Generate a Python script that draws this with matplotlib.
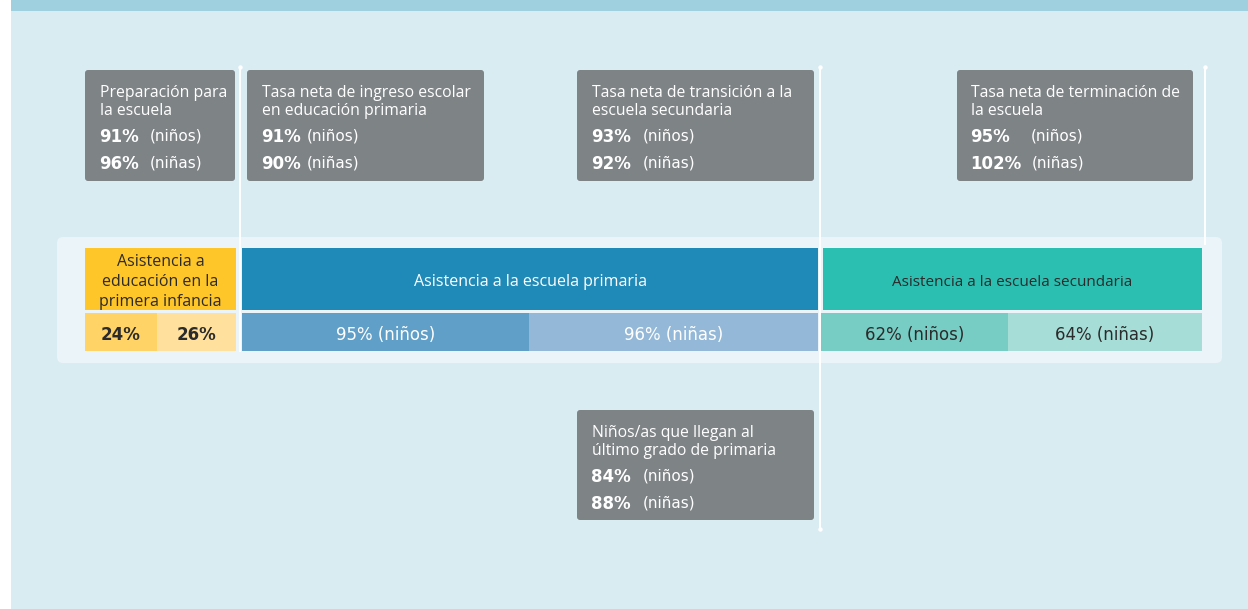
import matplotlib
matplotlib.use("Agg")
import matplotlib.pyplot as plt
from matplotlib.patches import FancyBboxPatch, Rectangle

plt.rcParams['font.family'] = ['Open Sans', 'DejaVu Sans']

# ---------------- data ----------------
indicator_titles = [
    "Preparación para\nla escuela",
    "Tasa neta de ingreso escolar\nen educación primaria",
    "Tasa neta de transición a la\nescuela secundaria",
    "Tasa neta de terminación de\nla escuela",
    "Niños/as que llegan al\núltimo grado de primaria",
]
indicator_boys = [91, 91, 93, 95, 84]
indicator_girls = [96, 90, 92, 102, 88]

attendance_levels = [
    "Asistencia a\neducación en la\nprimera infancia",
    "Asistencia a la escuela primaria",
    "Asistencia a la escuela secundaria",
]
attendance_boys = [24, 95, 62]
attendance_girls = [26, 96, 64]
boys_label = "(niños)"
girls_label = "(niñas)"

# ---------------- layout (pixels) ----------------
W, H = 1248, 609
fig = plt.figure(figsize=(W / 100, H / 100), dpi=100)
ax = fig.add_axes([0, 0, 1, 1])
ax.set_xlim(0, W)
ax.set_ylim(H, 0)
ax.axis("off")
fig.patch.set_facecolor("white")

BG = "#D9ECF2"
TOP = "#9ED0E0"
PANEL = "#EBF4F8"
GREY = "#7E8386"
DARK = "#2B2B2B"
WIDE = ['DejaVu Sans']

ax.add_patch(Rectangle((11, 0), W - 11, H, facecolor=BG, edgecolor="none", zorder=0))
ax.add_patch(Rectangle((11, 0), W - 11, 11, facecolor=TOP, edgecolor="none", zorder=1))
ax.add_patch(FancyBboxPatch((57, 237), 1165, 126, boxstyle="round,pad=0,rounding_size=6",
                            facecolor=PANEL, edgecolor="none", zorder=1))

# vertical white guide lines
for x, y0, y1, dots in [(240, 67, 352, [67]), (820, 67, 529, [67, 529]), (1205, 67, 245, [67])]:
    ax.plot([x, x], [y0, y1], color="white", lw=1.4, zorder=2, solid_capstyle="butt")
    for d in dots:
        ax.plot([x], [d], "o", color="white", ms=3.2, zorder=2, mec="none")

# attendance bars
head_y, head_h = 248, 62
sub_y, sub_h = 313, 38
segments = [
    # (x0, x1, xsplit, head colour, boys colour, girls colour, head text colour, sub text colour, bold, head size)
    (85, 236, 157, "#FFC629", "#FFD366", "#FFE09C", DARK, DARK, True, 11.5),
    (242, 818, 529, "#1F89B7", "#609FC7", "#94B8D7", "white", "white", False, 11.5),
    (823, 1202, 1008, "#2BBFB2", "#77CCC4", "#A6DDD6", DARK, DARK, False, 11),
]
for i, (x0, x1, xs, hc, bc, gc, htc, stc, bold, hs) in enumerate(segments):
    ax.barh(head_y + head_h / 2, x1 - x0, left=x0, height=head_h, color=hc, zorder=3)
    sx0 = x0 if i < 2 else 821
    ax.barh(sub_y + sub_h / 2, xs - sx0, left=sx0, height=sub_h, color=bc, zorder=3)
    ax.barh(sub_y + sub_h / 2, x1 - xs, left=xs, height=sub_h, color=gc, zorder=3)
    ax.text((x0 + x1) / 2, head_y + head_h / 2 + 3, attendance_levels[i], ha="center", va="center",
            color=htc, fontsize=hs, linespacing=1.3, zorder=4)
    if bold:
        bt = f"{attendance_boys[i]}%"
        gt = f"{attendance_girls[i]}%"
    else:
        bt = f"{attendance_boys[i]}% {boys_label}"
        gt = f"{attendance_girls[i]}% {girls_label}"
    kw = dict(ha="center", va="center", color=stc, zorder=4, family=WIDE,
              fontsize=12, fontweight="bold" if bold else "normal")
    ax.text((sx0 + xs) / 2, sub_y + sub_h / 2 + 3, bt, **kw)
    ax.text((xs + x1) / 2, sub_y + sub_h / 2 + 3, gt, **kw)

# indicator boxes
boxes = [
    # (x0, y0, x1, y1, text x, label x)
    (85, 70, 235, 181, 99, 150),
    (247, 70, 484, 181, 261, 307),
    (577, 70, 814, 181, 591, 643),
    (957, 70, 1193, 181, 970, 1031),
    (577, 410, 814, 520, 591, 643),
]
for i, (x0, y0, x1, y1, tx, lx) in enumerate(boxes):
    ax.add_patch(FancyBboxPatch((x0, y0), x1 - x0, y1 - y0, boxstyle="round,pad=0,rounding_size=3",
                                facecolor=GREY, edgecolor="none", zorder=3))
    ax.text(tx + 1, y0 + 15, indicator_titles[i], ha="left", va="top", color="white",
            fontsize=11.3, linespacing=1.13, zorder=4)
    ax.text(tx, y0 + 67, f"{indicator_boys[i]}%", ha="left", va="center", color="white",
            fontsize=12, fontweight="bold", family=WIDE, zorder=4)
    ax.text(lx, y0 + 66, boys_label, ha="left", va="center", color="white", fontsize=11,
            family=WIDE, zorder=4)
    ax.text(tx, y0 + 94, f"{indicator_girls[i]}%", ha="left", va="center", color="white",
            fontsize=12, fontweight="bold", family=WIDE, zorder=4)
    ax.text(lx + (1 if i == 3 else 0), y0 + 93, girls_label, ha="left", va="center", color="white",
            fontsize=11, family=WIDE, zorder=4)

fig.savefig("out.png", dpi=100)
